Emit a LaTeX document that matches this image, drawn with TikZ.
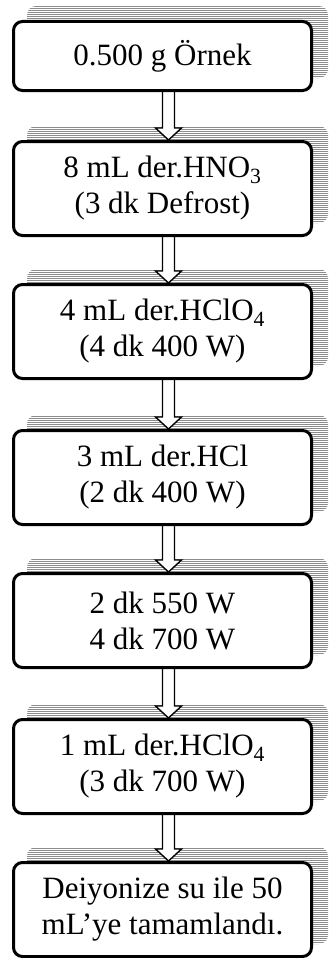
\documentclass[tikz,border=0pt]{standalone}
\usepackage{fontspec}
\setmainfont{Liberation Serif}
\usetikzlibrary{calc,backgrounds}
\begin{document}
\begin{tikzpicture}[x=1pt,y=1pt,
 box/.style={draw=black, line width=3pt, rounded corners=9pt, fill=white,
   minimum width=298pt, minimum height=94pt, align=center, inner sep=0pt,
   font=\fontsize{31}{36}\selectfont},
 shadowbox/.style={rounded corners=9pt,
   path picture={\foreach \i in {0,2,...,110}{\draw[black!45, line width=0.5pt]
     ([yshift=\i pt]path picture bounding box.south west) -- ++(340pt,0);}}},
 blockarrow/.style={draw=black, line width=1.4pt, fill=white, line join=miter}]
\useasboundingbox (0,0) rectangle (331,-958);
\node[box, minimum height=69pt] (b1) at (162.5,-56) {0.500 g Örnek};
\node[box] (b2) at (162.5,-188.5) {8 mL der.HNO\textsubscript{3}\\(3 dk Defrost)};
\node[box] (b3) at (162.5,-331.5) {4 mL der.HClO\textsubscript{4}\\(4 dk 400 W)};
\node[box] (b4) at (162.5,-477.5) {3 mL der.HCl\\(2 dk 400 W)};
\node[box] (b5) at (162.5,-620.5) {2 dk 550 W\\4 dk 700 W};
\node[box] (b6) at (162.5,-766.5) {1 mL der.HClO\textsubscript{4}\\(3 dk 700 W)};
\node[box] (b7) at (162.5,-909.5) {Deiyonize su ile 50\\mL’ye tamamlandı.};
\begin{scope}[on background layer]
\foreach \n in {b1,b2,b3,b4,b5,b6,b7}
  \path[shadowbox] ($(\n.south west)+(15,14)$) rectangle ($(\n.north east)+(15,14)$);
\foreach \a/\b in {b1/b2,b2/b3,b3/b4,b4/b5,b5/b6,b6/b7}
  \draw[blockarrow] let \p1=($(\a.south)+(6,2)$), \p2=($(\b.north)+(6,0)$) in
    (\x1-6,\y1) -- (\x1-6,\y2+12) -- (\x1-13,\y2+12) -- (\x1,\y2)
    -- (\x1+13,\y2+12) -- (\x1+6,\y2+12) -- (\x1+6,\y1) -- cycle;
\end{scope}
\end{tikzpicture}
\end{document}
